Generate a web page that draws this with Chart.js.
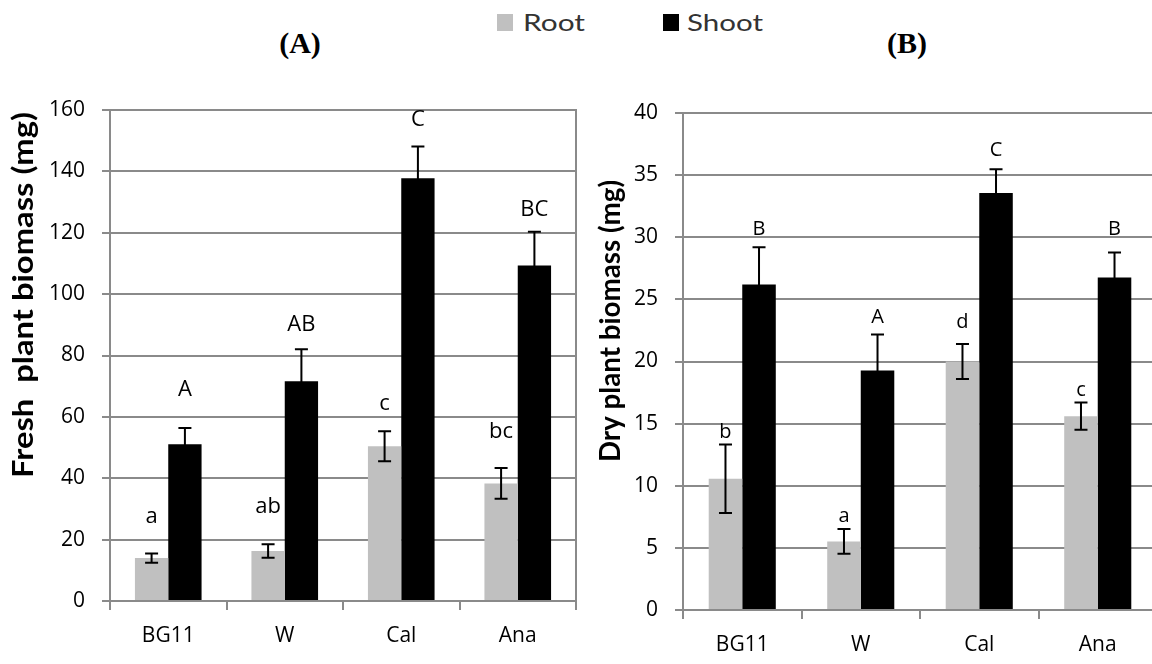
<!DOCTYPE html>
<html><head><meta charset="utf-8">
<script src="https://cdn.jsdelivr.net/npm/chart.js@4.4.1/dist/chart.umd.min.js"></script>
<style>
html,body{margin:0;padding:0;background:#fff;width:1152px;height:664px;overflow:hidden;position:relative;}
#wa{position:absolute;left:0;top:0;width:580px;height:664px;}
#wb{position:absolute;left:580px;top:0;width:600px;height:664px;}
.panel{position:absolute;font-family:'Liberation Serif','Times New Roman',serif;font-weight:bold;font-size:30px;line-height:30px;width:100px;text-align:center;top:28px;color:#000;}
.leg{position:absolute;font-family:Lato,sans-serif;font-size:23px;line-height:23px;color:#333;top:11px;transform-origin:0 0;white-space:nowrap;}
.sw{position:absolute;width:16px;height:17px;top:14px;}
</style></head>
<body>
<div class="panel" style="left:250px">(A)</div>
<div class="panel" style="left:857px">(B)</div>
<div class="sw" style="left:497px;background:#c0c0c0"></div>
<span class="leg" style="left:523px" data-w="62">Root</span>
<div class="sw" style="left:663px;background:#000"></div>
<span class="leg" style="left:687px" data-w="76">Shoot</span>
<div id="wa"><canvas id="ca" width="580" height="664"></canvas></div>
<div id="wb"><canvas id="cb" width="600" height="664"></canvas></div>
<script>
// ---- data ----
const categories = ['BG11', 'W', 'Cal', 'Ana'];
const seriesNames = ['Root', 'Shoot'];

const freshRoot = [14.0, 16.3, 50.4, 38.3];
const freshRootErr = [1.5, 2.2, 4.9, 5.0];
const freshShoot = [51.1, 71.6, 137.8, 109.3];
const freshShootErr = [5.3, 10.4, 10.3, 11.0];
const freshRootLetters = ['a', 'ab', 'c', 'bc'];
const freshShootLetters = ['A', 'AB', 'C', 'BC'];

const dryRoot = [10.56, 5.52, 20.0, 15.6];
const dryRootErr = [2.76, 1.0, 1.4, 1.1];
const dryShoot = [26.2, 19.28, 33.57, 26.77];
const dryShootErr = [3.0, 2.9, 1.9, 2.0];
const dryRootLetters = ['b', 'a', 'd', 'c'];
const dryShootLetters = ['B', 'A', 'C', 'B'];

const freshTickMax = 160, freshTickStep = 20;
const dryTickMax = 40, dryTickStep = 5;

const freshTitle = 'Fresh  plant biomass (mg)';
const dryTitle = 'Dry plant biomass (mg)';

// ---- style ----
const GRID = '#8a8a8a';
const ROOT_COLOR = '#c0c0c0';
const SHOOT_COLOR = '#000000';
const TICK_FONT = 'Open Sans';
Chart.defaults.font.family = TICK_FONT;

// legend text width fit
document.querySelectorAll('.leg').forEach(el => {
  const w = el.getBoundingClientRect().width;
  el.style.transform = 'scaleX(' + (parseFloat(el.dataset.w) / w) + ')';
});

function makeChart(id, c) {
  const canvas = document.getElementById(id);
  const W = canvas.width, H = canvas.height;
  const vals = [c.root, c.shoot], errs = [c.rootErr, c.shootErr];
  const letters = [c.rootLetters, c.shootLetters], gaps = [c.rootGaps, c.shootGaps];

  const deco = {
    id: 'deco',
    afterDatasetsDraw(chart) {
      const ctx = chart.ctx, ys = chart.scales.y;
      ctx.save();
      for (let i = 0; i < 2; i++) {
        const meta = chart.getDatasetMeta(i);
        meta.data.forEach((bar, j) => {
          const v = vals[i][j], e = errs[i][j];
          const yT = ys.getPixelForValue(v + e), yB = ys.getPixelForValue(v - e);
          const x = bar.x;
          ctx.strokeStyle = '#000'; ctx.lineWidth = 2;
          ctx.beginPath();
          ctx.moveTo(x, yT); ctx.lineTo(x, yB);
          ctx.moveTo(x - 6.5, yT); ctx.lineTo(x + 6.5, yT);
          ctx.moveTo(x - 6.5, yB); ctx.lineTo(x + 6.5, yB);
          ctx.stroke();
          ctx.fillStyle = '#000';
          ctx.font = c.letterFont;
          ctx.textAlign = 'center'; ctx.textBaseline = 'middle';
          ctx.fillText(letters[i][j], x, yT - gaps[i][j]);
        });
      }
      ctx.restore();
    },
    afterDraw(chart) {
      const ctx = chart.ctx, a = chart.chartArea;
      ctx.save();
      if (c.rightBorder) {
        ctx.strokeStyle = GRID; ctx.lineWidth = 2;
        ctx.beginPath(); ctx.moveTo(a.right, a.top - 1); ctx.lineTo(a.right, a.bottom + 1); ctx.stroke();
      }
      ctx.font = 'bold 28px Lato';
      ctx.fillStyle = '#000';
      const w = ctx.measureText(c.title).width;
      ctx.translate(c.titleX, c.titleCY);
      ctx.rotate(-Math.PI / 2);
      ctx.scale(c.titleLen / w, 1);
      ctx.textAlign = 'center'; ctx.textBaseline = 'alphabetic';
      ctx.fillText(c.title, 0, 0);
      ctx.restore();
    }
  };

  return new Chart(canvas, {
    type: 'bar',
    data: {
      labels: categories,
      datasets: [
        { label: seriesNames[0], data: c.root, backgroundColor: ROOT_COLOR, borderWidth: 0, categoryPercentage: c.catPct, barPercentage: 1 },
        { label: seriesNames[1], data: c.shoot, backgroundColor: SHOOT_COLOR, borderWidth: 0, categoryPercentage: c.catPct, barPercentage: 1 }
      ]
    },
    options: {
      responsive: false, animation: false,
      layout: { padding: { top: c.area.top, right: W - c.area.right, bottom: 0, left: 0 } },
      plugins: { legend: { display: false }, tooltip: { enabled: false } },
      scales: {
        x: {
          offset: true,
          grid: { offset: true, drawOnChartArea: false, drawTicks: true, tickLength: 9, color: GRID, lineWidth: 2 },
          border: { display: true, color: GRID, width: 2 },
          ticks: { font: { family: TICK_FONT, size: 21 }, color: '#000', padding: 13 },
          afterFit(s) { s.height = H - c.area.bottom; }
        },
        y: {
          min: 0, max: c.yMax,
          ticks: { stepSize: c.yStep, font: { family: TICK_FONT, size: 21 }, color: '#000', padding: 17 },
          grid: { color: GRID, lineWidth: 2, tickLength: 8 },
          border: { display: true, color: GRID, width: 2 },
          afterFit(s) { s.width = c.area.left; }
        }
      }
    },
    plugins: [deco]
  });
}

makeChart('ca', {
  root: freshRoot, rootErr: freshRootErr, shoot: freshShoot, shootErr: freshShootErr,
  rootLetters: freshRootLetters, shootLetters: freshShootLetters,
  rootGaps: [37, 37, 28, 36], shootGaps: [38, 25, 27, 22],
  yMax: freshTickMax, yStep: freshTickStep,
  title: freshTitle, titleX: 33, titleCY: 295, titleLen: 366,
  area: { left: 110, top: 110, right: 576, bottom: 601 },
  catPct: 0.572, rightBorder: true, letterFont: '22px "Open Sans"'
});

makeChart('cb', {
  root: dryRoot, rootErr: dryRootErr, shoot: dryShoot, shootErr: dryShootErr,
  rootLetters: dryRootLetters, shootLetters: dryShootLetters,
  rootGaps: [12, 13, 22, 12], shootGaps: [18, 17, 19, 23],
  yMax: dryTickMax, yStep: dryTickStep,
  title: dryTitle, titleX: 40, titleCY: 321, titleLen: 282,
  area: { left: 103, top: 113, right: 577, bottom: 610 },
  catPct: 0.566, rightBorder: false, letterFont: '20px "Open Sans"'
});
</script>
</body></html>
